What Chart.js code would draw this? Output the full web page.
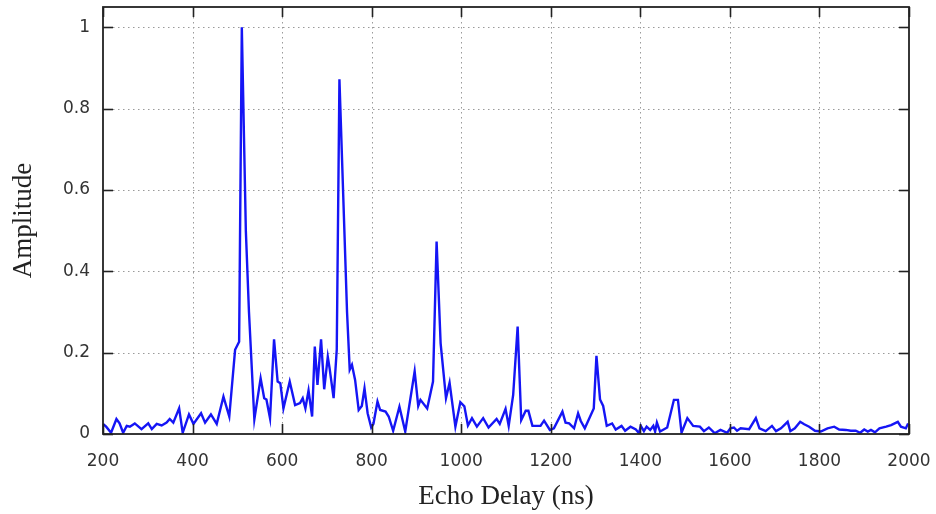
<!DOCTYPE html>
<html>
<head>
<meta charset="utf-8">
<script src="https://cdn.jsdelivr.net/npm/chart.js@4"></script>
<style>
html,body{margin:0;padding:0;background:#fff;}
#wrap{width:936px;height:514px;}
</style>
</head>
<body>
<div id="wrap"><canvas id="c" width="936" height="514"></canvas></div>
<script>
const delays = [200,207,218,230,237,245,253,260,271,286,301,309,320,331,342,349,357,370,378,392,402,419,428,441,454,469,482,495,504,510,519,526,538,552,560,565,573,582,590,596,603,617,629,640,646,652,659,667,673,679,687,694,702,706,715,722,728,745,751,756,763,771,778,784,791,799,804,813,819,831,838,848,862,875,896,904,909,924,937,945,954,966,974,987,998,1007,1015,1024,1035,1049,1061,1079,1086,1099,1106,1116,1126,1134,1144,1150,1159,1177,1185,1198,1207,1226,1233,1241,1252,1261,1267,1276,1296,1302,1310,1317,1325,1337,1345,1358,1366,1378,1390,1397,1401,1408,1414,1422,1429,1433,1437,1444,1460,1475,1484,1492,1505,1518,1533,1542,1553,1566,1579,1594,1601,1609,1616,1624,1643,1658,1666,1680,1694,1703,1714,1729,1735,1745,1757,1766,1777,1790,1803,1818,1833,1844,1859,1870,1881,1891,1900,1908,1915,1924,1934,1949,1960,1975,1982,1993,1998];
const amplitudes = [0.025,0.018,0.003,0.037,0.026,0.003,0.02,0.018,0.026,0.012,0.026,0.012,0.025,0.021,0.028,0.037,0.028,0.063,0.003,0.048,0.025,0.051,0.028,0.048,0.025,0.092,0.043,0.207,0.227,1.0,0.5,0.3,0.036,0.137,0.088,0.085,0.039,0.233,0.129,0.125,0.063,0.129,0.071,0.076,0.088,0.063,0.107,0.043,0.215,0.121,0.233,0.11,0.19,0.162,0.088,0.207,0.872,0.30,0.158,0.17,0.133,0.059,0.069,0.112,0.051,0.016,0.025,0.08,0.059,0.055,0.043,0.008,0.067,0.006,0.154,0.069,0.084,0.063,0.129,0.473,0.223,0.088,0.126,0.018,0.078,0.068,0.021,0.039,0.018,0.039,0.016,0.037,0.025,0.062,0.02,0.096,0.264,0.034,0.057,0.057,0.02,0.02,0.033,0.01,0.014,0.055,0.028,0.026,0.014,0.051,0.032,0.014,0.063,0.192,0.085,0.069,0.02,0.026,0.011,0.02,0.008,0.018,0.011,0.002,0.02,0.007,0.018,0.01,0.02,0.006,0.028,0.006,0.016,0.084,0.084,0.003,0.039,0.02,0.018,0.007,0.016,0.002,0.01,0.003,0.014,0.016,0.008,0.014,0.012,0.039,0.014,0.007,0.02,0.007,0.014,0.03,0.007,0.014,0.03,0.024,0.018,0.008,0.006,0.014,0.018,0.011,0.01,0.008,0.008,0.003,0.011,0.006,0.01,0.004,0.014,0.018,0.022,0.03,0.018,0.014,0.026];
const xTicks = [200,400,600,800,1000,1200,1400,1600,1800,2000];
const yTicks = [0,0.2,0.4,0.6,0.8,1];
const xTitle = 'Echo Delay (ns)';
const yTitle = 'Amplitude';

const points = delays.map((d, i) => ({x: d, y: amplitudes[i]}));

const framePlugin = {
  id: 'frame',
  beforeDatasetsDraw(chart) {
    const {ctx, chartArea: a, scales: {x, y}} = chart;
    ctx.save();
    ctx.strokeStyle = '#9a9a9a';
    ctx.lineWidth = 1;
    ctx.setLineDash([1.5, 3.5]);
    x.ticks.forEach(t => {
      if (t.value <= x.min || t.value >= x.max) return;
      const px = Math.round(x.getPixelForValue(t.value)) + 0.5;
      ctx.beginPath(); ctx.moveTo(px, a.top); ctx.lineTo(px, a.bottom); ctx.stroke();
    });
    y.ticks.forEach(t => {
      if (t.value <= y.min || t.value >= y.max) return;
      const py = Math.round(y.getPixelForValue(t.value)) + 0.5;
      ctx.beginPath(); ctx.moveTo(a.left, py); ctx.lineTo(a.right, py); ctx.stroke();
    });
    ctx.restore();
  },
  afterDatasetsDraw(chart) {
    const {ctx, chartArea: a, scales: {x, y}} = chart;
    ctx.save();
    ctx.setLineDash([]);
    ctx.strokeStyle = '#222';
    ctx.lineWidth = 1.6;
    const tl = 10;
    x.ticks.forEach(t => {
      const px = Math.round(x.getPixelForValue(t.value)) + 0.5;
      ctx.beginPath(); ctx.moveTo(px, a.bottom); ctx.lineTo(px, a.bottom - tl); ctx.stroke();
      ctx.beginPath(); ctx.moveTo(px, a.top); ctx.lineTo(px, a.top + tl); ctx.stroke();
    });
    y.ticks.forEach(t => {
      const py = Math.round(y.getPixelForValue(t.value)) + 0.5;
      ctx.beginPath(); ctx.moveTo(a.left, py); ctx.lineTo(a.left + tl, py); ctx.stroke();
      ctx.beginPath(); ctx.moveTo(a.right, py); ctx.lineTo(a.right - tl, py); ctx.stroke();
    });
    ctx.lineWidth = 1.8;
    ctx.strokeRect(a.left, a.top, a.right - a.left, a.bottom - a.top);
    ctx.restore();
  }
};

function noPad(s) {
  s.paddingTop = 0; s.paddingBottom = 0; s.paddingLeft = 0; s.paddingRight = 0;
}

new Chart(document.getElementById('c'), {
  type: 'line',
  data: {
    datasets: [{
      data: points,
      borderColor: '#1515f5',
      borderWidth: 2.4,
      pointRadius: 0,
      tension: 0,
      fill: false
    }]
  },
  options: {
    responsive: false,
    animation: false,
    devicePixelRatio: 1,
    layout: {padding: {top: 7, right: 27, left: 0, bottom: 0}},
    plugins: {legend: {display: false}, tooltip: {enabled: false}},
    scales: {
      x: {
        type: 'linear',
        min: 200, max: 2000,
        afterBuildTicks: s => { s.ticks = xTicks.map(v => ({value: v})); },
        afterFit: s => { s.height = 80; noPad(s); },
        grid: {display: false, drawTicks: false},
        border: {display: false},
        ticks: {
          padding: 17,
          color: '#333',
          font: {family: 'DejaVu Sans', size: 17},
          maxRotation: 0,
          autoSkip: false,
          callback: v => String(v)
        },
        title: {
          display: true,
          text: xTitle,
          color: '#222',
          font: {family: 'Liberation Serif', size: 27, lineHeight: 1.2},
          padding: {top: 0, bottom: 1}
        }
      },
      y: {
        type: 'linear',
        min: 0, max: 1.05,
        afterBuildTicks: s => { s.ticks = yTicks.map(v => ({value: v})); },
        afterFit: s => { s.width = 103; noPad(s); },
        grid: {display: false, drawTicks: false},
        border: {display: false},
        ticks: {
          padding: 13,
          color: '#333',
          font: {family: 'DejaVu Sans', size: 17},
          autoSkip: false,
          callback: v => String(+v.toFixed(2))
        },
        title: {
          display: true,
          text: yTitle,
          color: '#222',
          font: {family: 'Liberation Serif', size: 27, lineHeight: 1.2},
          padding: {top: 8, bottom: 0}
        }
      }
    }
  },
  plugins: [framePlugin]
});
</script>
</body>
</html>
